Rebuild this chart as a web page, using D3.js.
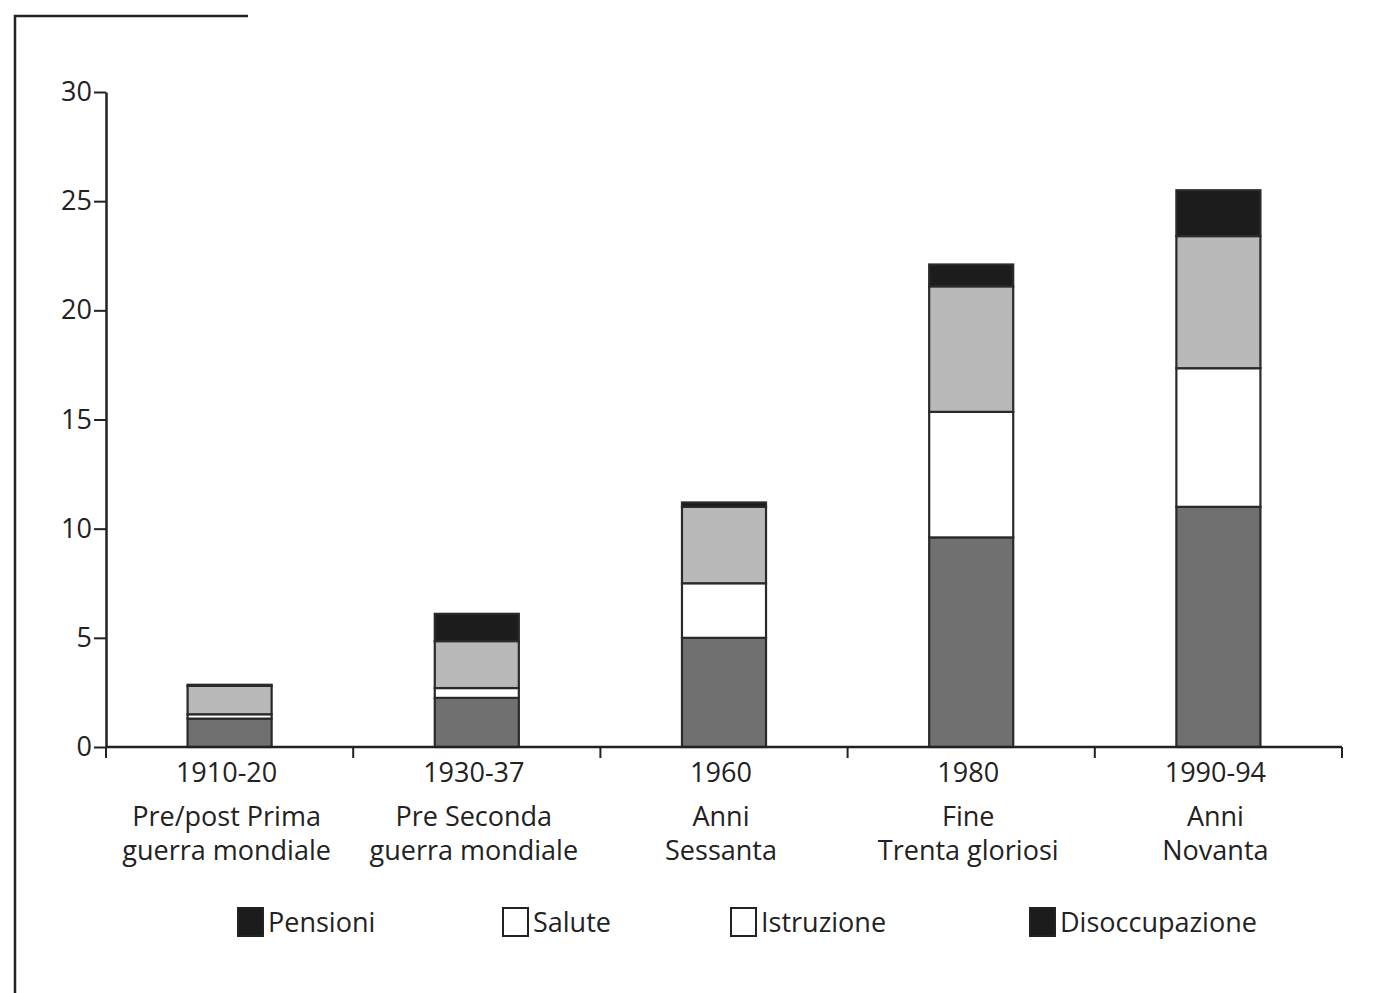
<!DOCTYPE html>
<html><head><meta charset="utf-8">
<script src="https://cdn.jsdelivr.net/npm/d3@7"></script>
<style>body{margin:0;background:#fff}svg{display:block}text{font-family:"Open Sans",sans-serif;fill:#222}</style>
</head><body><svg id="c" width="1375" height="993"></svg>
<script>
const periods = ["1910-20","1930-37","1960","1980","1990-94"];
const periodDesc1 = ["Pre/post Prima","Pre Seconda","Anni","Fine","Anni"];
const periodDesc2 = ["guerra mondiale","guerra mondiale","Sessanta","Trenta gloriosi","Novanta"];
const seriesNames = ["Pensioni","Salute","Istruzione","Disoccupazione"];
const pensioni = [1.3, 2.25, 5.0, 9.6, 11.0];
const salute = [0.2, 0.45, 2.5, 5.75, 6.35];
const istruzione = [1.3, 2.15, 3.5, 5.75, 6.05];
const disoccupazione = [0.05, 1.25, 0.2, 1.0, 2.1];
const yTicks = [0,5,10,15,20,25,30];
const fills = ["#707070","#ffffff","#b9b9b9","#1c1c1c"];
const legendFills = ["#1c1c1c","#ffffff","#ffffff","#1c1c1c"];

const svg = d3.select("#c");
const x = d3.scaleBand().domain(periods).range([106,1342]).paddingInner(0.66).paddingOuter(0.33);
const y = d3.scaleLinear().domain([0,30]).range([747,92]);

// frame
svg.append("path").attr("d","M15,993 V16 H248").attr("fill","none").attr("stroke","#222").attr("stroke-width",2.5);

const data = periods.map((p,i)=>({p, Pensioni:pensioni[i], Salute:salute[i], Istruzione:istruzione[i], Disoccupazione:disoccupazione[i]}));
const stack = d3.stack().keys(seriesNames)(data);
stack.forEach((s,k)=>{
  svg.append("g").selectAll("rect").data(s).join("rect")
    .attr("x",d=>x(d.data.p)).attr("width",x.bandwidth())
    .attr("y",d=>y(d[1])).attr("height",d=>y(d[0])-y(d[1]))
    .attr("fill",fills[k]).attr("stroke","#2a2a2a").attr("stroke-width",2.2);
});

// y axis
const ya = svg.append("g").attr("transform","translate(106,0)")
  .call(d3.axisLeft(y).tickValues(yTicks).tickSize(12).tickPadding(2).tickSizeOuter(0));
ya.select(".domain").attr("stroke","#222").attr("stroke-width",2.5);
ya.selectAll(".tick line").attr("stroke","#222").attr("stroke-width",2);
ya.selectAll("text").attr("font-size",27).attr("font-family","Open Sans").attr("fill","#222");

// x axis
const xa = svg.append("g").attr("transform","translate(0,747)");
xa.append("line").attr("x1",106).attr("x2",1342).attr("stroke","#222").attr("stroke-width",2.5);
const boundaryX = [106].concat(periods.map(p=>x(p)+x.bandwidth()/2+x.step()/2));
xa.selectAll(".xt").data(boundaryX).join("line").attr("class","xt")
  .attr("x1",d=>d).attr("x2",d=>d).attr("y1",0).attr("y2",11).attr("stroke","#222").attr("stroke-width",2);
const lab = svg.append("g");
periods.forEach((p,i)=>{
  const cx = x(p)+x.bandwidth()/2 - 3;
  const t = lab.append("text").attr("x",cx).attr("text-anchor","middle").attr("font-size",27);
  t.append("tspan").attr("x",cx).attr("y",782).text(p);
  t.append("tspan").attr("x",cx).attr("y",826).text(periodDesc1[i]);
  t.append("tspan").attr("x",cx).attr("y",860).text(periodDesc2[i]);
});

// legend
const legX = [238,503,731,1030];
const lg = svg.append("g");
seriesNames.forEach((n,i)=>{
  lg.append("rect").attr("x",legX[i]).attr("y",908).attr("width",25).attr("height",28)
    .attr("fill",legendFills[i]).attr("stroke","#222").attr("stroke-width",2);
  lg.append("text").attr("x",legX[i]+30).attr("y",932).attr("font-size",27).text(n);
});
</script></body></html>
